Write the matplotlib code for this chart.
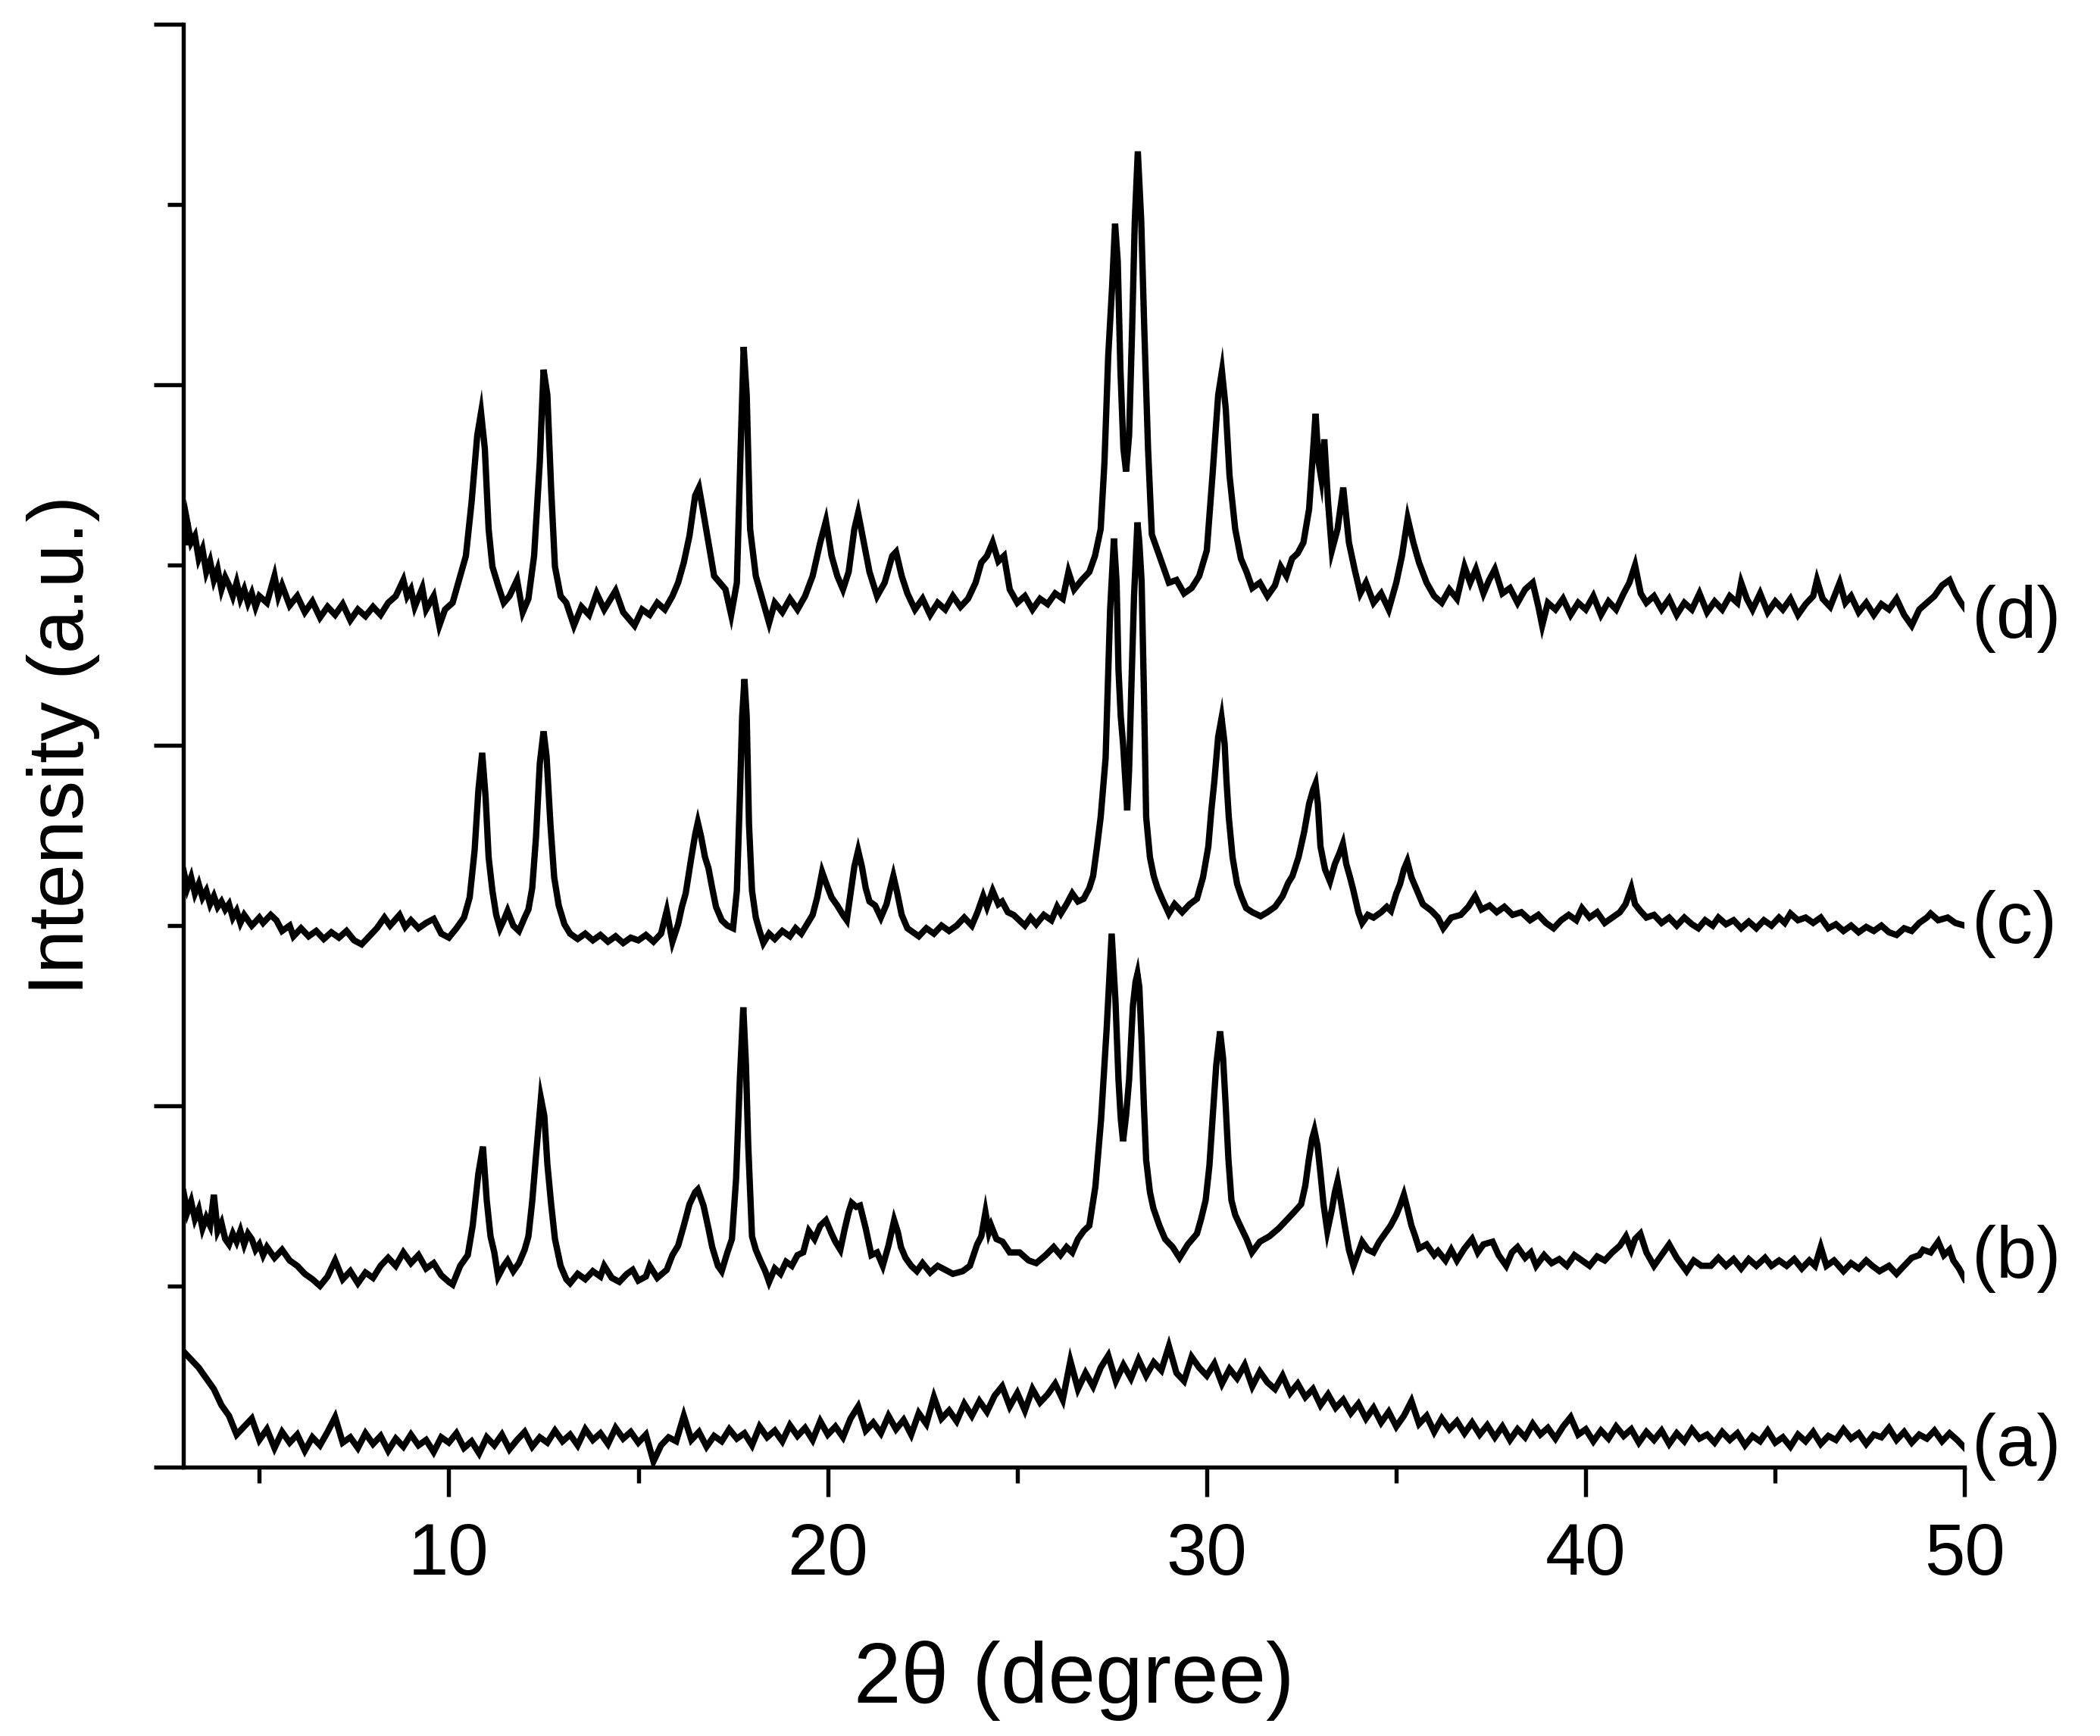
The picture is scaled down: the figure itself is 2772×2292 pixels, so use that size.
import numpy as np
import matplotlib
matplotlib.use("Agg")
import matplotlib.pyplot as plt
from matplotlib.ticker import MultipleLocator

plt.rcParams['font.family'] = ['Liberation Sans', 'DejaVu Sans']

# ---- data: (2theta, stacked intensity a.u.) ----
trace_a = [(3.0,86),(3.2,80),(3.4,74),(3.6,66),(3.8,58),(4.0,46),(4.2,38),(4.4,24),(4.6,30),(4.8,36),(5.0,20),(5.2,28),(5.4,14),(5.6,26),(5.8,18),(6.0,24),(6.2,12),(6.4,22),(6.6,16),(6.8,26),(7.0,37),(7.2,18),(7.4,22),(7.6,14),(7.8,25),(8.0,17),(8.2,23),(8.4,12),(8.6,21),(8.8,15),(9.0,24),(9.2,16),(9.4,20),(9.6,11),(9.8,22),(10.0,18),(10.2,25),(10.4,14),(10.6,19),(10.8,10),(11.0,22),(11.2,16),(11.4,24),(11.6,13),(11.8,20),(12.0,26),(12.2,15),(12.4,22),(12.6,18),(12.8,27),(13.0,19),(13.2,24),(13.4,16),(13.6,28),(13.8,20),(14.0,25),(14.2,17),(14.4,29),(14.6,21),(14.8,26),(15.0,18),(15.2,24),(15.4,4),(15.6,16),(15.8,22),(16.0,19),(16.2,38),(16.4,20),(16.6,26),(16.8,15),(17.0,23),(17.2,19),(17.4,28),(17.6,21),(17.8,25),(18.0,16),(18.2,30),(18.4,22),(18.6,27),(18.8,19),(19.0,31),(19.2,23),(19.4,29),(19.6,20),(19.8,34),(20.0,24),(20.2,30),(20.4,22),(20.6,36),(20.8,45),(21.0,27),(21.2,33),(21.4,25),(21.6,38),(21.8,28),(22.0,35),(22.2,24),(22.4,40),(22.6,32),(22.8,52),(23.0,36),(23.2,42),(23.4,34),(23.6,47),(23.8,38),(24.0,49),(24.2,41),(24.4,53),(24.6,60),(24.8,45),(25.0,55),(25.2,42),(25.4,58),(25.6,48),(25.8,54),(26.0,62),(26.2,50),(26.4,79),(26.6,58),(26.8,70),(27.0,60),(27.2,74),(27.4,83),(27.6,64),(27.8,76),(28.0,66),(28.2,80),(28.4,68),(28.6,78),(28.8,72),(29.0,90),(29.2,70),(29.4,64),(29.6,82),(29.8,74),(30.0,68),(30.2,77),(30.4,62),(30.6,73),(30.8,66),(31.0,76),(31.2,60),(31.4,71),(31.6,63),(31.8,58),(32.0,68),(32.2,55),(32.4,62),(32.6,52),(32.8,58),(33.0,46),(33.2,54),(33.4,44),(33.6,50),(33.8,40),(34.0,47),(34.2,36),(34.4,44),(34.6,33),(34.8,41),(35.0,30),(35.2,38),(35.4,49),(35.6,32),(35.8,38),(36.0,26),(36.2,36),(36.4,28),(36.6,34),(36.8,25),(37.0,33),(37.2,24),(37.4,31),(37.6,22),(37.8,30),(38.0,20),(38.2,28),(38.4,22),(38.6,32),(38.8,24),(39.0,29),(39.2,21),(39.4,30),(39.6,37),(39.8,24),(40.0,28),(40.2,19),(40.4,27),(40.6,21),(40.8,30),(41.0,23),(41.2,28),(41.4,18),(41.6,26),(41.8,20),(42.0,27),(42.2,17),(42.4,25),(42.6,19),(42.8,28),(43.0,21),(43.2,24),(43.4,18),(43.6,26),(43.8,20),(44.0,25),(44.2,16),(44.4,23),(44.6,19),(44.8,27),(45.0,18),(45.2,22),(45.4,15),(45.6,24),(45.8,19),(46.0,26),(46.2,17),(46.4,23),(46.6,20),(46.8,28),(47.0,21),(47.2,25),(47.4,17),(47.6,24),(47.8,22),(48.0,29),(48.2,20),(48.4,26),(48.6,18),(48.8,24),(49.0,21),(49.2,27),(49.4,19),(49.6,25),(49.8,20),(50.0,14)]

trace_b = [(3.0,205),(3.1,190),(3.2,198),(3.3,185),(3.4,192),(3.5,178),(3.6,186),(3.7,180),(3.8,203),(3.9,176),(4.0,182),(4.1,170),(4.2,166),(4.3,174),(4.4,168),(4.5,176),(4.6,166),(4.7,174),(4.8,170),(4.9,162),(5.0,166),(5.1,158),(5.2,164),(5.4,156),(5.6,162),(5.8,154),(6.0,150),(6.2,144),(6.4,140),(6.6,135),(6.8,142),(7.0,154),(7.2,140),(7.4,146),(7.6,137),(7.8,145),(8.0,141),(8.2,150),(8.4,156),(8.6,150),(8.8,160),(9.0,152),(9.2,158),(9.4,148),(9.6,152),(9.8,143),(10.0,138),(10.1,136),(10.3,150),(10.5,158),(10.63,180),(10.78,219),(10.9,239),(11.0,199),(11.1,172),(11.2,160),(11.3,142),(11.45,150),(11.55,154),(11.7,146),(11.85,152),(12.0,162),(12.1,172),(12.2,198),(12.3,232),(12.43,275),(12.52,262),(12.6,226),(12.7,196),(12.8,170),(12.95,150),(13.1,140),(13.2,137),(13.4,144),(13.6,140),(13.8,146),(14.0,142),(14.1,150),(14.3,141),(14.5,138),(14.7,144),(14.85,147),(15.0,139),(15.2,142),(15.3,150),(15.5,141),(15.75,147),(15.9,158),(16.05,165),(16.2,180),(16.35,196),(16.5,205),(16.57,207),(16.72,195),(16.85,178),(16.95,164),(17.1,150),(17.2,146),(17.35,160),(17.47,170),(17.58,215),(17.68,290),(17.77,343),(17.84,300),(17.9,240),(18.0,172),(18.1,162),(18.22,154),(18.35,146),(18.45,138),(18.6,148),(18.75,144),(18.9,153),(19.05,150),(19.2,158),(19.35,160),(19.5,176),(19.65,170),(19.8,180),(19.95,184),(20.1,174),(20.2,168),(20.33,162),(20.45,178),(20.55,190),(20.63,197),(20.75,194),(20.85,195),(21.0,178),(21.15,158),(21.3,160),(21.45,150),(21.6,165),(21.75,184),(21.85,175),(21.93,164),(22.05,156),(22.2,150),(22.35,146),(22.5,152),(22.7,145),(22.9,150),(23.1,147),(23.3,144),(23.56,146),(23.75,150),(23.94,166),(24.05,172),(24.16,190),(24.25,175),(24.31,180),(24.45,170),(24.61,168),(24.8,160),(25.06,160),(25.3,154),(25.5,152),(25.75,158),(25.96,164),(26.14,158),(26.3,164),(26.45,160),(26.6,170),(26.75,176),(26.9,180),(27.06,209),(27.21,259),(27.36,328),(27.49,398),(27.59,348),(27.67,289),(27.73,260),(27.79,243),(27.87,262),(27.95,289),(28.05,344),(28.12,362),(28.17,368),(28.22,358),(28.28,318),(28.34,270),(28.4,229),(28.5,205),(28.59,193),(28.75,180),(28.9,170),(29.1,164),(29.28,156),(29.5,166),(29.74,174),(29.85,185),(29.97,199),(30.07,225),(30.15,259),(30.25,300),(30.35,325),(30.43,305),(30.5,269),(30.57,230),(30.65,199),(30.75,188),(30.88,180),(31.05,170),(31.19,160),(31.4,168),(31.65,172),(31.9,178),(32.1,184),(32.3,190),(32.49,196),(32.6,210),(32.69,229),(32.78,245),(32.84,251),(32.92,240),(33.0,219),(33.08,196),(33.18,176),(33.3,192),(33.38,205),(33.45,213),(33.55,196),(33.64,180),(33.75,162),(33.87,150),(34.0,160),(34.1,168),(34.25,162),(34.4,160),(34.55,168),(34.7,174),(34.85,180),(35.0,188),(35.1,195),(35.2,203),(35.3,192),(35.4,180),(35.5,172),(35.6,163),(35.8,166),(36.0,158),(36.1,161),(36.3,154),(36.45,162),(36.6,154),(36.8,163),(37.0,170),(37.15,160),(37.3,166),(37.54,168),(37.7,158),(37.9,150),(38.05,160),(38.2,164),(38.4,156),(38.55,160),(38.69,150),(38.9,158),(39.1,152),(39.3,155),(39.5,150),(39.7,158),(39.9,154),(40.1,150),(40.3,157),(40.5,154),(40.7,160),(40.9,165),(41.06,172),(41.2,162),(41.3,170),(41.44,174),(41.6,160),(41.8,150),(42.0,158),(42.2,166),(42.4,156),(42.66,146),(42.85,154),(43.05,150),(43.3,150),(43.5,156),(43.7,150),(43.9,155),(44.1,148),(44.3,155),(44.5,150),(44.73,156),(44.9,150),(45.1,154),(45.3,150),(45.5,155),(45.7,148),(45.9,154),(46.05,150),(46.2,164),(46.35,150),(46.55,154),(46.8,146),(47.0,152),(47.2,148),(47.4,154),(47.56,150),(47.75,146),(48.0,150),(48.2,144),(48.4,150),(48.6,156),(48.8,158),(48.9,162),(49.1,160),(49.3,168),(49.45,158),(49.6,162),(49.7,154),(49.85,148),(50.0,140)]

trace_c = [(3.0,445),(3.1,432),(3.2,440),(3.3,428),(3.4,435),(3.5,425),(3.6,430),(3.7,420),(3.8,426),(3.9,418),(4.0,422),(4.1,416),(4.2,420),(4.3,410),(4.4,415),(4.5,406),(4.6,412),(4.8,404),(5.0,410),(5.1,406),(5.3,412),(5.45,408),(5.6,400),(5.8,404),(5.9,396),(6.1,402),(6.3,396),(6.5,400),(6.7,394),(6.9,399),(7.1,395),(7.3,400),(7.5,393),(7.7,390),(7.9,396),(8.1,402),(8.3,410),(8.45,404),(8.7,412),(8.85,403),(9.0,408),(9.2,402),(9.4,406),(9.6,409),(9.8,398),(10.0,395),(10.2,402),(10.4,410),(10.55,425),(10.68,460),(10.78,505),(10.88,533),(10.97,500),(11.05,455),(11.15,430),(11.25,412),(11.35,402),(11.45,408),(11.55,415),(11.7,404),(11.85,400),(12.0,410),(12.1,416),(12.2,432),(12.3,470),(12.4,525),(12.5,549),(12.58,530),(12.68,480),(12.78,440),(12.9,419),(13.05,405),(13.2,398),(13.4,394),(13.6,398),(13.8,393),(14.0,397),(14.2,392),(14.4,396),(14.6,391),(14.8,395),(15.0,393),(15.2,397),(15.4,392),(15.6,398),(15.75,415),(15.9,392),(16.05,405),(16.15,418),(16.25,428),(16.4,455),(16.5,472),(16.57,481),(16.66,470),(16.76,455),(16.85,447),(16.95,432),(17.05,418),(17.2,408),(17.35,404),(17.5,402),(17.6,430),(17.68,500),(17.74,560),(17.8,588),(17.86,560),(17.92,480),(18.0,430),(18.1,410),(18.2,400),(18.3,391),(18.45,398),(18.6,394),(18.8,400),(19.0,396),(19.15,402),(19.3,398),(19.45,405),(19.6,412),(19.72,425),(19.85,444),(19.95,436),(20.1,425),(20.25,419),(20.4,412),(20.5,408),(20.6,428),(20.7,448),(20.8,460),(20.9,448),(21.0,432),(21.1,422),(21.25,419),(21.4,410),(21.55,420),(21.65,432),(21.73,441),(21.82,430),(21.95,412),(22.1,402),(22.25,399),(22.4,396),(22.6,402),(22.8,398),(23.0,404),(23.2,400),(23.4,404),(23.6,410),(23.8,404),(23.95,414),(24.1,426),(24.2,418),(24.35,430),(24.5,420),(24.6,422),(24.75,414),(24.9,412),(25.05,408),(25.2,404),(25.35,410),(25.5,405),(25.7,412),(25.9,408),(26.05,418),(26.15,413),(26.3,420),(26.45,428),(26.6,422),(26.75,424),(26.9,432),(27.0,441),(27.1,462),(27.2,485),(27.33,529),(27.45,640),(27.55,693),(27.62,660),(27.67,595),(27.73,560),(27.79,540),(27.9,490),(27.95,520),(28.0,573),(28.08,650),(28.17,705),(28.22,690),(28.28,661),(28.34,580),(28.4,485),(28.5,455),(28.6,441),(28.7,432),(28.82,424),(29.0,413),(29.15,420),(29.35,414),(29.55,420),(29.74,424),(29.9,440),(30.04,463),(30.12,490),(30.2,512),(30.3,545),(30.39,559),(30.47,540),(30.52,512),(30.58,485),(30.68,455),(30.8,435),(30.92,425),(31.04,417),(31.2,414),(31.42,411),(31.6,414),(31.8,418),(32.0,426),(32.15,436),(32.26,441),(32.42,455),(32.57,474),(32.7,495),(32.8,505),(32.87,510),(32.93,495),(33.0,463),(33.12,446),(33.25,437),(33.38,450),(33.5,458),(33.59,465),(33.68,450),(33.78,440),(33.87,430),(34.0,414),(34.1,406),(34.25,412),(34.4,410),(34.6,414),(34.75,418),(34.86,415),(35.0,428),(35.1,435),(35.2,446),(35.29,452),(35.4,440),(35.55,430),(35.7,420),(35.93,415),(36.1,410),(36.24,402),(36.45,410),(36.7,412),(36.9,418),(37.08,426),(37.25,416),(37.46,419),(37.65,414),(37.85,418),(38.07,412),(38.3,414),(38.53,408),(38.75,412),(38.95,406),(39.15,402),(39.35,408),(39.55,412),(39.75,408),(39.9,417),(40.1,410),(40.3,414),(40.5,406),(40.7,410),(40.9,414),(41.05,420),(41.2,432),(41.3,420),(41.44,415),(41.6,410),(41.8,412),(42.0,406),(42.2,410),(42.4,404),(42.6,410),(42.8,405),(42.97,402),(43.15,408),(43.35,404),(43.5,410),(43.7,405),(43.9,408),(44.1,402),(44.3,407),(44.5,402),(44.7,408),(44.9,404),(45.1,410),(45.25,406),(45.4,413),(45.6,408),(45.8,410),(46.0,406),(46.2,410),(46.4,402),(46.6,405),(46.8,400),(47.0,404),(47.2,399),(47.4,403),(47.6,400),(47.8,404),(48.0,399),(48.2,397),(48.4,402),(48.6,400),(48.8,406),(49.0,410),(49.1,413),(49.3,408),(49.55,410),(49.75,406),(50.0,404)]

trace_d = [(3.0,700),(3.05,688),(3.1,705),(3.2,690),(3.3,695),(3.4,678),(3.5,685),(3.6,668),(3.7,676),(3.8,662),(3.9,670),(4.0,655),(4.1,664),(4.2,658),(4.3,650),(4.4,660),(4.5,648),(4.6,655),(4.7,645),(4.8,652),(4.9,642),(5.0,650),(5.2,645),(5.4,665),(5.5,650),(5.6,658),(5.8,643),(6.0,650),(6.2,638),(6.4,646),(6.6,634),(6.8,642),(7.0,636),(7.2,644),(7.4,632),(7.6,640),(7.8,635),(8.0,642),(8.2,636),(8.4,645),(8.6,650),(8.8,662),(8.9,650),(9.0,655),(9.1,642),(9.3,656),(9.4,640),(9.6,650),(9.75,628),(9.9,640),(10.1,645),(10.3,665),(10.45,680),(10.6,720),(10.75,770),(10.85,787),(10.95,760),(11.05,700),(11.15,672),(11.3,658),(11.45,645),(11.6,650),(11.8,662),(11.95,638),(12.1,648),(12.25,680),(12.4,750),(12.5,819),(12.6,800),(12.7,730),(12.8,672),(12.95,650),(13.1,645),(13.3,628),(13.5,642),(13.7,636),(13.9,652),(14.1,640),(14.4,654),(14.6,638),(14.9,628),(15.1,640),(15.3,636),(15.5,645),(15.7,640),(15.9,650),(16.05,660),(16.2,675),(16.35,695),(16.5,725),(16.6,731),(16.7,715),(16.85,690),(17.0,665),(17.15,660),(17.3,655),(17.45,636),(17.6,660),(17.7,760),(17.78,836),(17.86,800),(17.95,700),(18.1,665),(18.25,650),(18.45,630),(18.6,645),(18.8,638),(19.0,648),(19.2,640),(19.4,650),(19.6,665),(19.8,690),(19.95,706),(20.1,680),(20.25,665),(20.4,655),(20.55,668),(20.7,700),(20.8,712),(20.95,690),(21.1,668),(21.3,650),(21.5,660),(21.7,680),(21.8,683),(21.95,665),(22.1,652),(22.3,640),(22.5,648),(22.7,636),(22.9,645),(23.1,640),(23.3,650),(23.5,642),(23.7,648),(23.9,660),(24.05,675),(24.2,680),(24.35,690),(24.5,676),(24.65,680),(24.8,655),(25.0,645),(25.2,650),(25.4,640),(25.6,648),(25.8,644),(26.0,652),(26.2,648),(26.35,668),(26.5,655),(26.7,662),(26.9,668),(27.05,680),(27.2,700),(27.3,750),(27.4,830),(27.5,880),(27.58,928),(27.65,900),(27.72,820),(27.8,760),(27.87,743),(27.95,770),(28.03,850),(28.1,930),(28.18,982),(28.27,930),(28.35,850),(28.45,760),(28.55,696),(28.7,684),(28.85,672),(29.0,660),(29.2,662),(29.4,652),(29.6,656),(29.8,665),(30.0,684),(30.15,740),(30.3,800),(30.4,818),(30.5,790),(30.6,740),(30.75,700),(30.9,678),(31.05,668),(31.2,656),(31.4,660),(31.6,650),(31.8,658),(31.95,672),(32.1,665),(32.25,678),(32.4,682),(32.55,690),(32.7,715),(32.87,786),(32.95,750),(33.02,738),(33.1,767),(33.2,720),(33.3,684),(33.45,700),(33.6,731),(33.75,690),(33.9,670),(34.05,652),(34.2,660),(34.4,645),(34.6,652),(34.8,640),(35.0,660),(35.15,680),(35.3,708),(35.45,690),(35.6,675),(35.8,660),(36.0,650),(36.2,645),(36.4,655),(36.6,648),(36.8,672),(36.95,660),(37.1,670),(37.3,652),(37.45,662),(37.6,670),(37.8,652),(38.0,656),(38.2,645),(38.4,655),(38.6,660),(38.75,642),(38.85,628),(39.0,645),(39.2,640),(39.4,648),(39.6,636),(39.8,645),(40.0,640),(40.2,650),(40.4,636),(40.6,646),(40.8,640),(41.0,652),(41.15,660),(41.3,673),(41.45,652),(41.6,645),(41.8,650),(42.0,640),(42.2,648),(42.4,636),(42.6,645),(42.8,640),(43.0,652),(43.2,638),(43.4,646),(43.6,640),(43.8,650),(44.0,645),(44.1,660),(44.25,648),(44.4,640),(44.6,652),(44.8,638),(45.0,646),(45.2,640),(45.4,648),(45.6,636),(45.8,644),(46.0,650),(46.1,662),(46.25,648),(46.45,642),(46.7,660),(46.85,645),(47.0,650),(47.2,638),(47.4,645),(47.6,636),(47.8,644),(48.0,640),(48.2,648),(48.4,636),(48.6,628),(48.8,640),(49.0,645),(49.2,650),(49.4,658),(49.6,662),(49.75,652),(49.9,645),(50.0,641)]

labels = ["(a)", "(b)", "(c)", "(d)"]
label_levels = [15, 155, 405, 633]

# ---- figure ----
fig = plt.figure(figsize=(9.24, 7.64), dpi=300)
ax = fig.add_axes([0.0874, 0.1551, 0.8482, 0.8310])

for tr in (trace_a, trace_b, trace_c, trace_d):
    x, y = zip(*tr)
    ax.plot(x, y, color='black', lw=2.0, solid_joinstyle='miter')

for lab, lv in zip(labels, label_levels):
    ax.text(50.2, lv, lab, ha='left', va='center', fontsize=23, clip_on=False)

ax.set_xlim(3, 50)
ax.set_ylim(0, 1077)
ax.spines['top'].set_visible(False)
ax.spines['right'].set_visible(False)
for s in ('left', 'bottom'):
    ax.spines[s].set_linewidth(1.3)

ax.xaxis.set_major_locator(MultipleLocator(10))
ax.xaxis.set_minor_locator(MultipleLocator(5))
ax.yaxis.set_major_locator(MultipleLocator(269.25))
ax.yaxis.set_minor_locator(MultipleLocator(134.625))
ax.tick_params(axis='both', which='major', direction='out', length=9.4, width=1.3)
ax.tick_params(axis='both', which='minor', direction='out', length=5.0, width=1.3)
ax.tick_params(axis='x', which='major', pad=8, labelsize=23)
ax.tick_params(axis='y', which='both', labelleft=False)

ax.set_xlabel('2θ (degree)', fontsize=27, labelpad=16)
ax.set_ylabel('Intensity (a.u.)', fontsize=25, labelpad=17)

fig.savefig('out.png', dpi=300)
